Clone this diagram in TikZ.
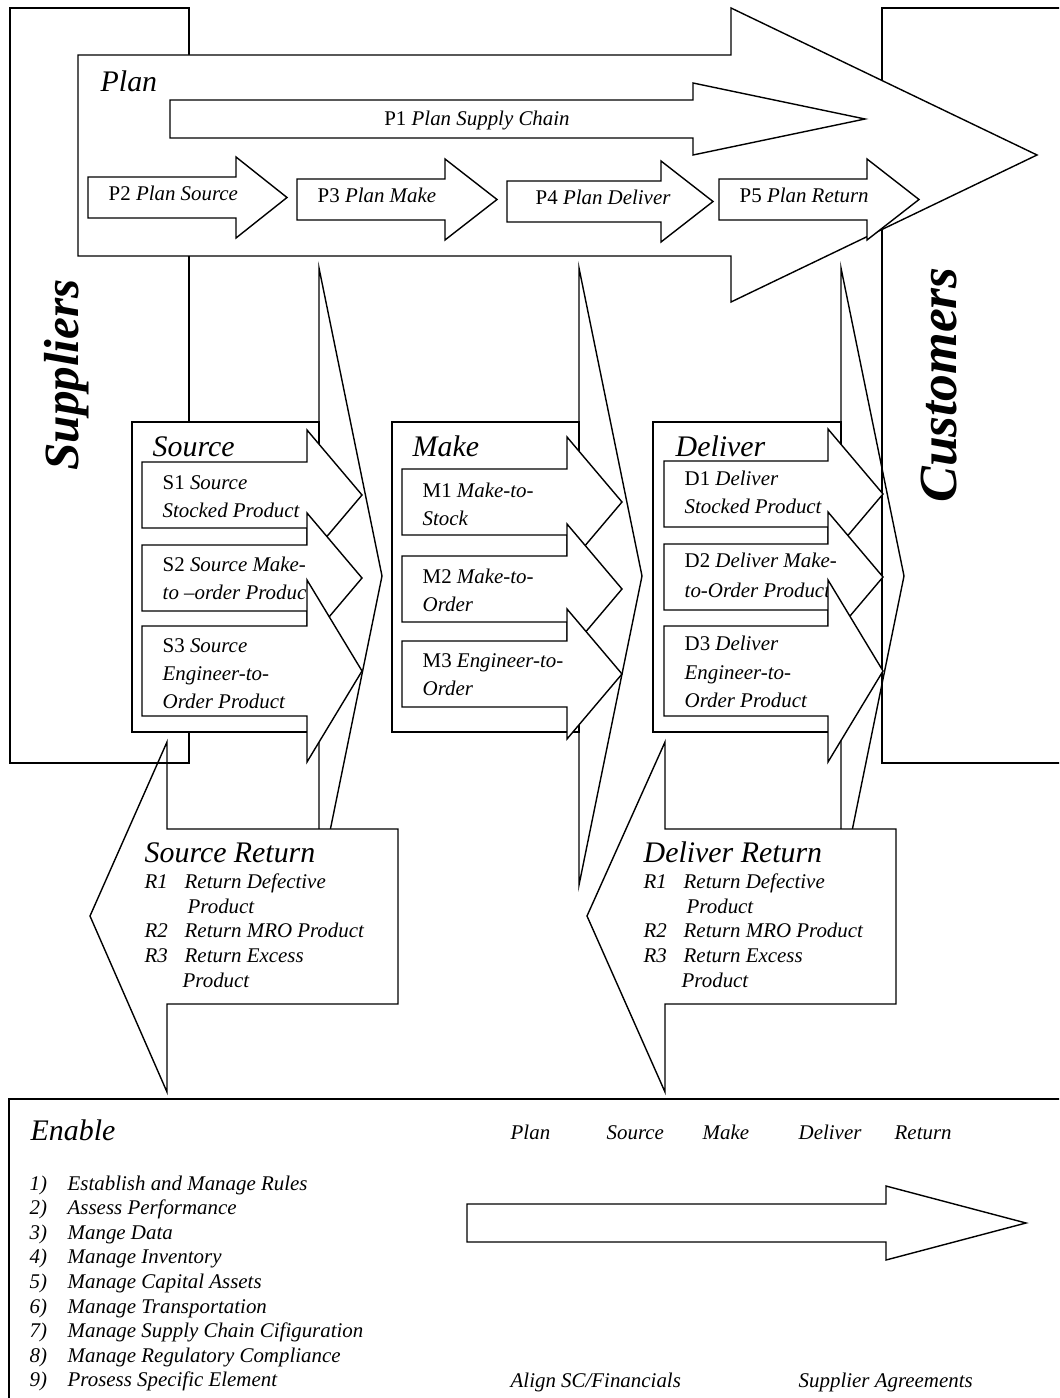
\documentclass[tikz,border=0pt]{standalone}
\usepackage{fontspec}
\setmainfont{Liberation Serif}
\tikzset{>=latex}
\newcommand\bodyfont{\fontsize{11.9}{14}\selectfont\itshape}
\newcommand\headfont{\fontsize{17}{20}\selectfont\itshape}
\newcommand\sidefont{\fontsize{28}{32}\selectfont\bfseries\itshape}
% right block arrow: left, head base, tip, body top, body bottom, overhang
\newcommand\rarrow[6]{\draw[blk] (#1,#4) -- (#2,#4) -- (#2,#4-#6) -- (#3,{(#4+#5)/2}) -- (#2,#5+#6) -- (#2,#5) -- (#1,#5) -- cycle;}
\tikzset{
  blk/.style={draw, fill=white, line join=miter},
  box/.style={draw},
  txt/.style={anchor=base west, inner sep=0pt, font=\bodyfont},
  head/.style={anchor=base west, inner sep=0pt, font=\headfont},
  side/.style={inner sep=0pt, rotate=90, font=\sidefont}
}

\begin{document}
\begin{tikzpicture}[x=0.02cm, y=-0.02cm, line width=0.8pt]
\useasboundingbox (0,0) rectangle (1059,1398);
\clip (0,0) rectangle (1059,1398);

% big heads behind the panels
\draw[blk] (319,268) -- (382,576) -- (319,885) -- cycle;
\draw[blk] (579,268) -- (642,576) -- (579,885) -- cycle;
\draw[blk] (841,268) -- (904,576) -- (841,885) -- cycle;

% return arrows
\draw[blk] (398,829) -- (398,1004) -- (167,1004) -- (167,1092) -- (90,916) -- (167,742) -- (167,829) -- cycle;
\draw[blk] (896,829) -- (896,1004) -- (665,1004) -- (665,1092) -- (587,916) -- (665,742) -- (665,829) -- cycle;
\foreach \who/\dx/\id in {Source/0/sr, Deliver/499/dr} {
  \node[head] (\id) at (144+\dx,862) {\who{} Return};
  \node[txt] (\id1) at (144+\dx,888) {R1};
  \node[txt] (\id1t) at (184+\dx,888) {Return Defective};
  \node[txt] (\id1p) at (187+\dx,913) {Product};
  \node[txt] (\id2) at (144+\dx,937) {R2};
  \node[txt] (\id2t) at (184+\dx,937) {Return MRO Product};
  \node[txt] (\id3) at (144+\dx,962) {R3};
  \node[txt] (\id3t) at (184+\dx,962) {Return Excess};
  \node[txt] (\id3p) at (182+\dx,987) {Product};
}

% suppliers, customers, enable
\draw[box] (10,8) rectangle (189,763);
\draw[box] (882,8) rectangle (1080,763);
\draw[box] (9,1099) rectangle (1080,1420);
\node[side] (sup) at (67,375) {Suppliers};
\node[side, font=\fontsize{30.5}{34}\selectfont\bfseries\itshape] (cus) at (939,385) {Customers};

% plan
\draw[blk] (78,55) -- (731,55) -- (731,8) -- (1037,155) -- (731,302) -- (731,256) -- (78,256) -- cycle;
\node[head] (plan) at (100,92) {Plan};
\rarrow{170}{693}{865}{100}{138}{17}
\node[txt, anchor=base] (p1) at (477,126) {\textup{P1} Plan Supply Chain};
\rarrow{88}{236}{287}{177}{218}{20}
\node[txt] (p2) at (108,201) {\textup{P2} Plan Source};
\rarrow{297}{445}{497}{179}{220}{20}
\node[txt] (p3) at (317,203) {\textup{P3} Plan Make};
\rarrow{507}{661}{713}{181}{222}{20}
\node[txt] (p4) at (535,205) {\textup{P4} Plan Deliver};
\rarrow{719}{867}{919}{179}{220}{20}
\node[txt] (p5) at (739,203) {\textup{P5} Plan Return};

% source
\draw[blk] (132,422) rectangle (319,732);
\node[head] (src) at (152,456) {Source};
\rarrow{142}{307}{362}{462}{528}{32}
\node[txt] (s1a) at (162,489) {\textup{S1} Source};
\node[txt] (s1b) at (162,517) {Stocked Product};
\rarrow{142}{307}{362}{545}{611}{32}
\node[txt] (s2a) at (162,571) {\textup{S2} Source Make-};
\node[txt] (s2b) at (162,599) {to --order Product};
\rarrow{142}{307}{362}{626}{716}{46}
\node[txt] (s3a) at (162,652) {\textup{S3} Source};
\node[txt] (s3b) at (162,680) {Engineer-to-};
\node[txt] (s3c) at (162,708) {Order Product};

% make
\draw[blk] (392,422) rectangle (579,732);
\node[head] (mk) at (412,456) {Make};
\rarrow{402}{567}{622}{469}{535}{32}
\node[txt] (m1a) at (422,497) {\textup{M1} Make-to-};
\node[txt] (m1b) at (422,525) {Stock};
\rarrow{402}{567}{622}{556}{622}{32}
\node[txt] (m2a) at (422,583) {\textup{M2} Make-to-};
\node[txt] (m2b) at (422,611) {Order};
\rarrow{402}{567}{622}{641}{707}{32}
\node[txt] (m3a) at (422,667) {\textup{M3} Engineer-to-};
\node[txt] (m3b) at (422,695) {Order};

% deliver
\draw[blk] (653,422) rectangle (841,732);
\node[head] (dl) at (675,456) {Deliver};
\rarrow{664}{828}{883}{461}{527}{32}
\node[txt] (d1a) at (684,485) {\textup{D1} Deliver};
\node[txt] (d1b) at (684,513) {Stocked Product};
\rarrow{664}{828}{883}{544}{610}{32}
\node[txt] (d2a) at (684,567) {\textup{D2} Deliver Make-};
\node[txt] (d2b) at (684,597) {to-Order Product};
\rarrow{664}{828}{883}{626}{716}{46}
\node[txt] (d3a) at (684,650) {\textup{D3} Deliver};
\node[txt] (d3b) at (684,679) {Engineer-to-};
\node[txt] (d3c) at (684,707) {Order Product};

% enable
\node[head] (en) at (30,1140) {Enable};
\foreach \n/\t [count=\i from 0] in {1/Establish and Manage Rules, 2/Assess Performance,
    3/Mange Data, 4/Manage Inventory, 5/Manage Capital Assets, 6/Manage Transportation,
    7/Manage Supply Chain Cifiguration, 8/Manage Regulatory Compliance, 9/Prosess Specific Element} {
  \node[txt] (enn\n) at (29,{1190+24.6*\i}) {\n)};
  \node[txt] (ent\n) at (67,{1190+24.6*\i}) {\t};
}
\foreach \lbl/\px in {Plan/510, Source/606, Make/702, Deliver/798, Return/894}
  \node[txt] (top\lbl) at (\px,1139) {\lbl};
\rarrow{467}{886}{1026}{1204}{1242}{18}
\node[txt] (align) at (510,1387) {Align SC/Financials};
\node[txt] (agree) at (798,1387) {Supplier Agreements};
\end{tikzpicture}
\end{document}
